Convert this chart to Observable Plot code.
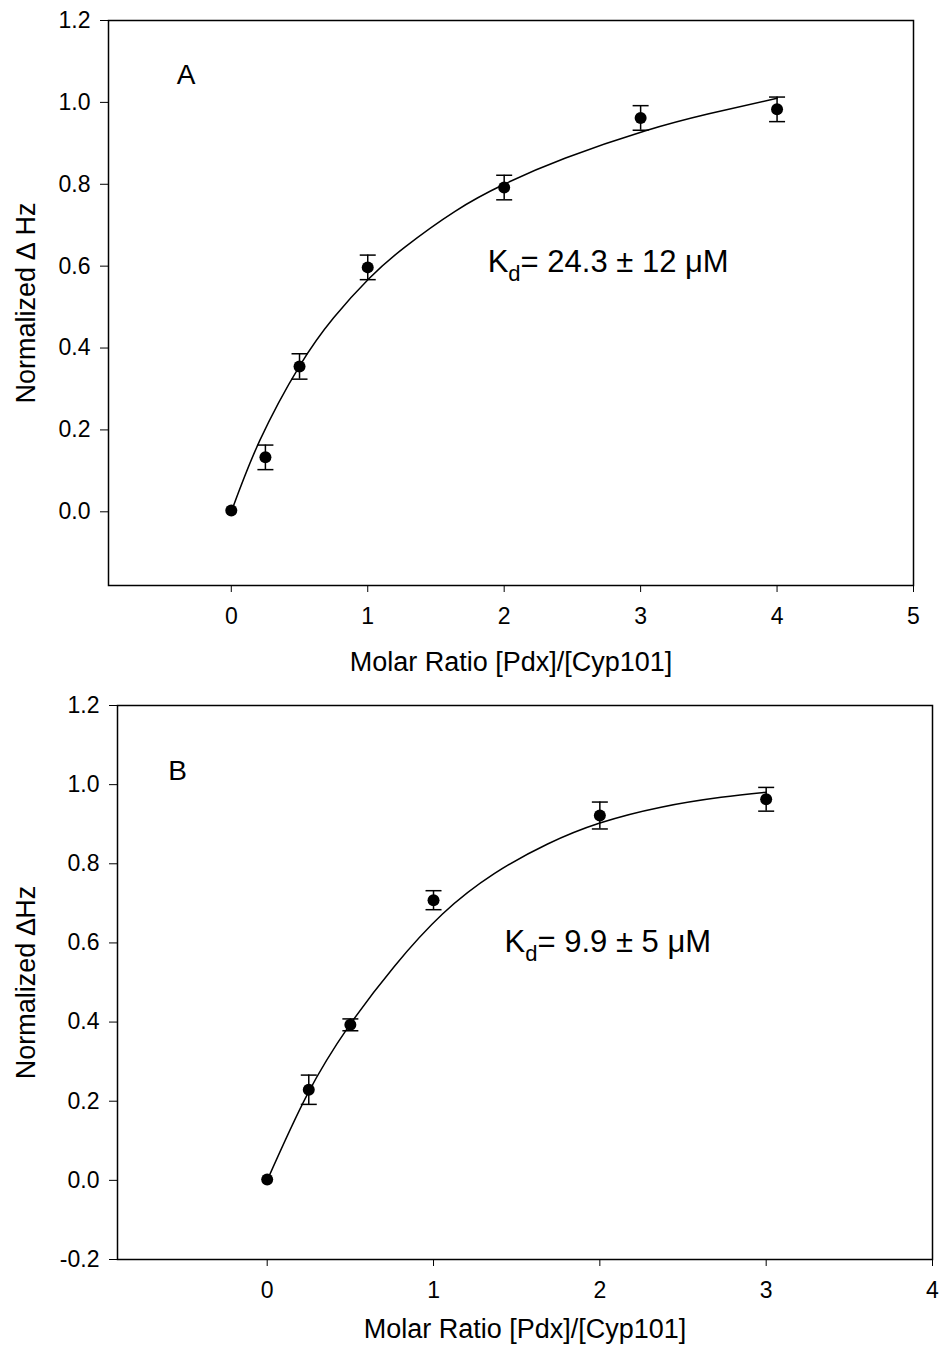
<!DOCTYPE html>
<html><head><meta charset="utf-8">
<script src="https://cdn.jsdelivr.net/npm/d3@7"></script>
<script src="https://cdn.jsdelivr.net/npm/@observablehq/plot@0.6"></script>
<style>
body{margin:0;background:#fff}
#c svg{display:block}
#c svg g[aria-label$="tick label"]{font-size:23px}
</style>
</head><body><div id="c"></div>
<script>
// ---------- Panel A data ----------
const ratioA = [0, 0.25, 0.5, 1, 2, 3, 4];
const hzA    = [0.003, 0.133, 0.355, 0.597, 0.792, 0.962, 0.983];
const errA   = [0, 0.030, 0.031, 0.030, 0.030, 0.030, 0.030];
const fitXA  = [0, 0.21, 0.5, 0.75, 1.01, 1.27, 1.64, 2.0, 2.45, 3.03, 3.5, 4.0];
const fitYA  = [0, 0.175, 0.356, 0.474, 0.570, 0.646, 0.734, 0.800, 0.864, 0.930, 0.972, 1.010];
const xTicksA = [0, 1, 2, 3, 4, 5];
const yTicksA = [0, 0.2, 0.4, 0.6, 0.8, 1.0, 1.2];
const labelA = "A";
const kdA = "Kd= 24.3 ± 12 μM";

// ---------- Panel B data ----------
const ratioB = [0, 0.25, 0.5, 1, 2, 3];
const hzB    = [0.002, 0.229, 0.393, 0.708, 0.922, 0.963];
const errB   = [0, 0.037, 0.015, 0.024, 0.034, 0.030];
const fitXB  = [0, 0.24, 0.49, 0.763, 1.054, 1.365, 1.686, 2.0, 2.368, 2.729, 3.0];
const fitYB  = [0, 0.216, 0.389, 0.540, 0.673, 0.775, 0.850, 0.903, 0.943, 0.968, 0.981];
const xTicksB = [0, 1, 2, 3, 4];
const yTicksB = [-0.2, 0, 0.2, 0.4, 0.6, 0.8, 1.0, 1.2];
const labelB = "B";
const kdB = "Kd= 9.9 ± 5 μM";

const xTitle = "Molar Ratio [Pdx]/[Cyp101]";
const yTitleA = "Normalized \u2206 Hz";
const yTitleB = "Normalized \u2206Hz";

const FONT = "'Liberation Sans', Arial, Helvetica, sans-serif";
const cap = {draw(ctx){ ctx.moveTo(-8, 0); ctx.lineTo(8, 0); }};

function panel(cfg) {
  const pts = cfg.x.map((x, i) => ({x, y: cfg.y[i], e: cfg.e[i]}));
  const bars = pts.filter(d => d.e > 0);
  const fit = cfg.fx.map((x, i) => ({x, y: cfg.fy[i]}));
  const svg = Plot.plot({
    width: 942, height: cfg.height,
    marginTop: cfg.mt, marginBottom: cfg.mb, marginLeft: cfg.ml, marginRight: cfg.mr,
    style: {fontFamily: FONT, fontSize: "23px", color: "black", background: "white"},
    x: {domain: cfg.xd, ticks: cfg.xt, tickSize: 7, tickPadding: 15, tickFormat: d => String(d), label: null},
    y: {domain: cfg.yd, ticks: cfg.yt, tickSize: 8, tickPadding: 10, tickFormat: d => d.toFixed(1), label: null},
    marks: [
      Plot.frame({stroke: "black", strokeWidth: 1.5}),
      Plot.line(fit, {x: "x", y: "y", curve: "natural", stroke: "black", strokeWidth: 1.5}),
      Plot.ruleX(bars, {x: "x", y1: d => d.y - d.e, y2: d => d.y + d.e, stroke: "black", strokeWidth: 1.5}),
      Plot.dot(bars, {x: "x", y: d => d.y + d.e, symbol: cap, fill: "none", stroke: "black", strokeWidth: 1.5}),
      Plot.dot(bars, {x: "x", y: d => d.y - d.e, symbol: cap, fill: "none", stroke: "black", strokeWidth: 1.5}),
      Plot.dot(pts, {x: "x", y: "y", r: 6, fill: "black", stroke: "none"}),
      Plot.text([cfg.letter], {x: cfg.lx, y: cfg.ly, text: d => d, textAnchor: "start", lineAnchor: "bottom", fontSize: 28}),
      Plot.text([cfg.kd], {x: cfg.kx, y: cfg.ky, text: d => d, textAnchor: "start", lineAnchor: "bottom", fontSize: 31}),
      Plot.text([xTitle], {frameAnchor: "bottom", dy: cfg.xtdy, text: d => d, textAnchor: "middle", lineAnchor: "bottom", fontSize: 27}),
      Plot.text([cfg.ytitle], {frameAnchor: "left", dx: cfg.ytdx, rotate: -90, text: d => d, textAnchor: "middle", lineAnchor: "top", fontSize: 27})
    ]
  });
  svg.querySelectorAll("text").forEach(t => {
    const s = t.textContent;
    if (s.startsWith("Kd=")) {
      const ns = "http://www.w3.org/2000/svg";
      t.textContent = "";
      const a = document.createElementNS(ns, "tspan"); a.textContent = "K";
      const b = document.createElementNS(ns, "tspan"); b.textContent = "d";
      b.setAttribute("font-size", "22"); b.setAttribute("dy", "9");
      const c = document.createElementNS(ns, "tspan"); c.textContent = s.slice(2);
      c.setAttribute("dy", "-9");
      t.append(a, b, c);
    }
  });
  return svg;
}

const root = document.getElementById("c");
root.append(panel({
  x: ratioA, y: hzA, e: errA, fx: fitXA, fy: fitYA,
  height: 690, mt: 20, mb: 105, ml: 108, mr: 29,
  xd: [-0.9, 5], yd: [-0.18, 1.2], xt: xTicksA, yt: yTicksA,
  letter: labelA, lx: -0.40, ly: 1.045,
  kd: kdA, kx: 1.879, ky: 0.585,
  xtdy: 85, ytitle: yTitleA, ytdx: -93
}));
root.append(panel({
  x: ratioB, y: hzB, e: errB, fx: fitXB, fy: fitYB,
  height: 662, mt: 15, mb: 93, ml: 117, mr: 10,
  xd: [-0.9, 4], yd: [-0.2, 1.2], xt: xTicksB, yt: yTicksB,
  letter: labelB, lx: -0.595, ly: 1.012,
  kd: kdB, kx: 1.427, ky: 0.578,
  xtdy: 78, ytitle: yTitleB, ytdx: -102
}));
</script>
</body></html>
